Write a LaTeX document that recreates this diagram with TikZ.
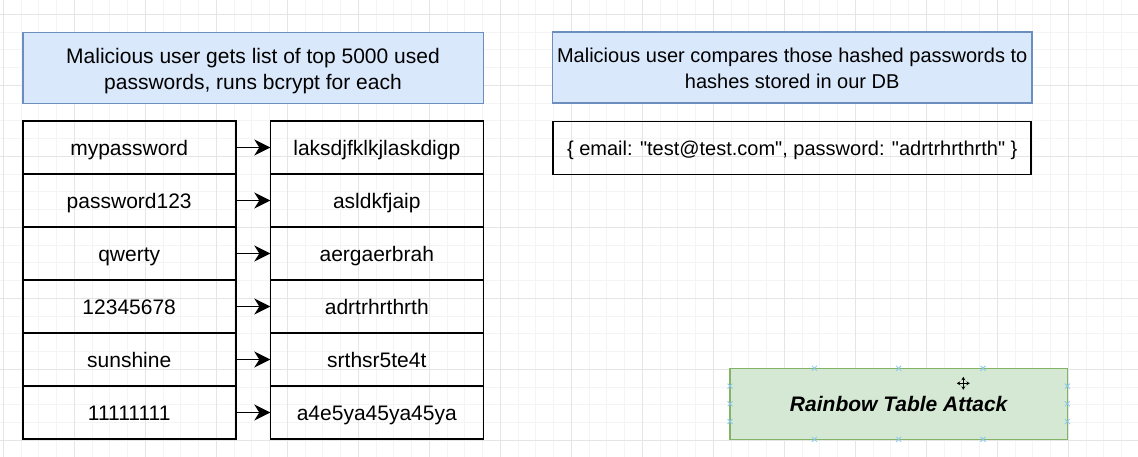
\documentclass[tikz,border=0pt]{standalone}
\usepackage{fontspec}
\setmainfont{Liberation Sans}
\usetikzlibrary{positioning,arrows.meta}

\definecolor{notefill}{HTML}{DAE8FC}
\definecolor{noteline}{HTML}{6C8EBF}
\definecolor{titlefill}{HTML}{D5E8D4}
\definecolor{titleline}{HTML}{82B366}
\definecolor{gridminor}{HTML}{F4F4F4}
\definecolor{gridmajor}{HTML}{E5E5E5}
\definecolor{handleblue}{HTML}{8CC8EC}

\tikzset{
 textfont/.style={font=\fontsize{21}{26}\selectfont, text height=16pt, text depth=0pt},
 smallfont/.style={font=\fontsize{20}{26}\selectfont},
 cell/.style={draw, line width=1.6pt, minimum width=213pt, minimum height=53pt,
  inner sep=0pt, outer sep=0pt, textfont},
 note/.style={draw=noteline, fill=notefill, line width=1.6pt, align=center,
  minimum height=71pt, inner sep=0pt, outer sep=0pt, textfont},
 twolines/.style={text height=42pt, text depth=0pt},
 hashes/.style={-{Stealth[length=16pt,width=16pt,inset=5pt]}, line width=1.6pt},
 handlemark/.style={handleblue, line width=0.8pt},
}

\begin{document}
\begin{tikzpicture}[x=1pt,y=-1pt]
 \useasboundingbox (0,0) rectangle (1138,457);
 \fill[white] (0,0) rectangle (1138,457);
 % grid
 \foreach \i in {0,...,63}
  \draw[gridminor, line width=0.8pt] ({3.3+17.75*\i},0) -- ({3.3+17.75*\i},457);
 \foreach \i in {0,...,24}
  \draw[gridminor, line width=0.8pt] (0,{14.3+17.75*\i}) -- (1138,{14.3+17.75*\i});
 \foreach \i in {0,...,15}
  \draw[gridmajor, line width=0.9pt] ({3.3+71*\i},0) -- ({3.3+71*\i},457);
 \foreach \i in {0,...,6}
  \draw[gridmajor, line width=0.9pt] (0,{14.3+71*\i}) -- (1138,{14.3+71*\i});

 % plain passwords
 \node[cell] (pw1) at (129.2,147.5) {mypassword};
 \node[cell, below=0pt of pw1] (pw2) {password123};
 \node[cell, below=0pt of pw2] (pw3) {qwerty};
 \node[cell, below=0pt of pw3] (pw4) {12345678};
 \node[cell, below=0pt of pw4] (pw5) {sunshine};
 \node[cell, below=0pt of pw5] (pw6) {11111111};

 % hashed passwords
 \node[cell, right=34.6pt of pw1] (h1) {laksdjfklkjlaskdigp};
 \node[cell, below=0pt of h1] (h2) {asldkfjaip};
 \node[cell, below=0pt of h2] (h3) {aergaerbrah};
 \node[cell, below=0pt of h3] (h4) {adrtrhrthrth};
 \node[cell, below=0pt of h4] (h5) {srthsr5te4t};
 \node[cell, below=0pt of h5] (h6) {a4e5ya45ya45ya};

 \foreach \i in {1,...,6}
  \draw[hashes] (pw\i) -- (h\i);

 % notes
 \node[note, twolines, minimum width=460.6pt, above=17.3pt of pw1.north west, anchor=south west] (listnote)
  {Malicious user gets list of top 5000 used\\passwords, runs bcrypt for each};
 \node[note, twolines, smallfont, minimum width=479.7pt] (comparenote) at (792.2,67.7)
  {Malicious user compares those hashed passwords to\\hashes stored in our DB};
 \node[cell, smallfont, minimum width=478pt, below=18.3pt of comparenote] (dbrecord)
  {\{ email: \textquotedbl test@test.com\textquotedbl, password: \textquotedbl adrtrhrthrth\textquotedbl\ \}};

 % title
 \node[note, draw=titleline, fill=titlefill, minimum width=337.3pt,
  font=\fontsize{21}{26}\selectfont\bfseries\itshape] (title) at (898.7,403.8)
  {Rainbow Table Attack};
 \foreach \p in {north,south}
  \foreach \s in {-84.3,0,84.3}
   \draw[handlemark] ([xshift=\s pt]title.\p) +(-2.5,-2.5) -- +(2.5,2.5) +(-2.5,2.5) -- +(2.5,-2.5);
 \foreach \p in {west,east}
  \foreach \s in {-17.7,0,17.7}
   \draw[handlemark] ([yshift=\s pt]title.\p) +(-2.5,-2.5) -- +(2.5,2.5) +(-2.5,2.5) -- +(2.5,-2.5);

 % move cursor
 \coordinate (cursor) at (963.3,383.3);
 \draw[line width=1.1pt, {Stealth[length=3.5pt,width=4pt]}-{Stealth[length=3.5pt,width=4pt]}]
  ([xshift=-6.5pt]cursor) -- ([xshift=6.5pt]cursor);
 \draw[line width=1.1pt, {Stealth[length=3.5pt,width=4pt]}-{Stealth[length=3.5pt,width=4pt]}]
  ([yshift=-6.5pt]cursor) -- ([yshift=6.5pt]cursor);
\end{tikzpicture}
\end{document}
